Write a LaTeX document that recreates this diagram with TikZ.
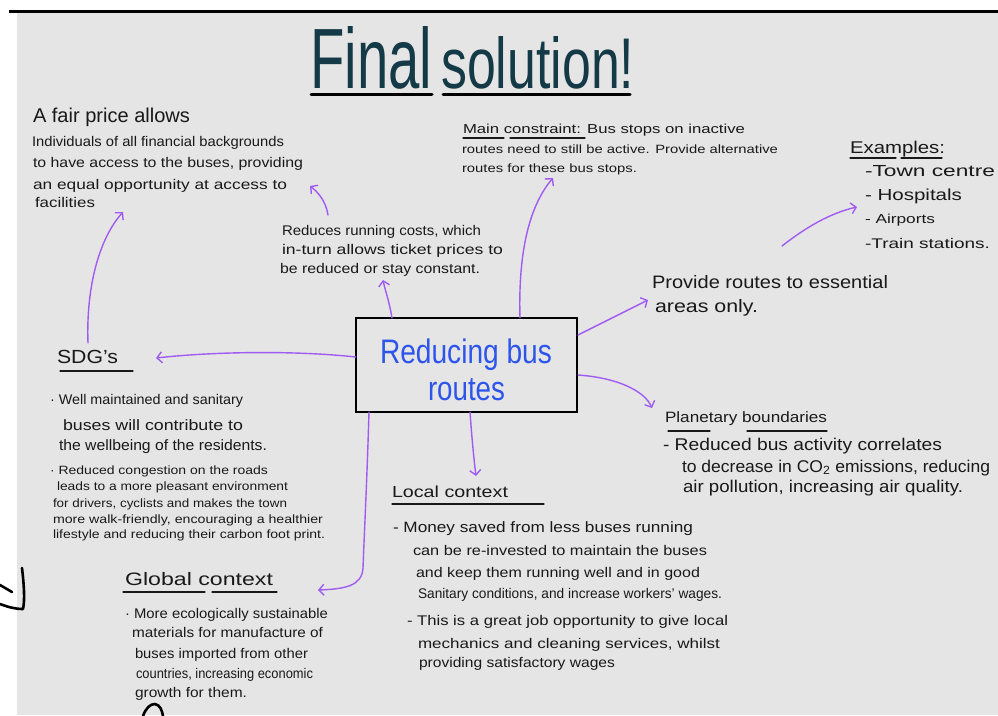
\documentclass[tikz,border=0pt]{standalone}
\usepackage{fontspec}
\setmainfont{Liberation Sans}
\usepackage{graphicx}
\usetikzlibrary{arrows.meta}
\definecolor{bggray}{RGB}{229,229,229}
\definecolor{ink}{RGB}{25,25,25}
\definecolor{titleteal}{RGB}{21,58,71}
\definecolor{penblue}{RGB}{45,85,235}
\definecolor{penpurple}{RGB}{160,92,242}
% fixed height, width fitted
\newcommand{\wl}[3]{{\fontsize{#2}{#2}\selectfont\resizebox{#1pt}{\height}{#3}}}
\tikzset{
  tx/.style={anchor=base west, inner sep=0pt, outer sep=0pt, text=ink},
  ul/.style={draw=ink, line width=1.3pt, line cap=round},
  arr/.style={draw=penpurple, line width=1.4pt, line cap=round,
    -{Straight Barb[length=5pt,width=11pt,line width=1.4pt]}},
  mainbox/.style={draw=black, line width=2.2pt, fill=bggray, inner sep=0pt,
    minimum width=221pt, minimum height=94pt},
  scrib/.style={draw=black, line width=2.6pt, line cap=round, line join=round}
}
\begin{document}
\begin{tikzpicture}[x=1pt,y=-1pt]
\useasboundingbox (0,0) rectangle (998,715);
\fill[white] (0,0) rectangle (998,715);
\fill[bggray] (17,11) rectangle (998,715);
\draw[black, line width=3pt] (9,11) -- (998,11);

% stray scribbles at the edges
\draw[scrib] (0,585) -- (12,592);
\draw[scrib] (22,568) .. controls (24,585) and (25,600) .. (23,609) .. controls (15,609) and (8,607) .. (0,604);
\draw[scrib] (143,716) .. controls (146,708) and (150,704) .. (155,704) .. controls (160,705) and (162,710) .. (163,716);

% title
\node[anchor=base west, inner sep=0pt, text=titleteal] (title1) at (310,88) {\resizebox{122pt}{62pt}{Final}};
\node[anchor=base west, inner sep=0pt, text=titleteal] (title2) at (441,88) {\resizebox{193pt}{52pt}{solution!}};
\draw[line width=3pt, line cap=round] (311,94) -- (432,94);
\draw[line width=3pt, line cap=round] (443,94) -- (630,94);

% fair price block
\node[tx] (fair1) at (33,122) {\wl{157}{20}{A fair price allows}};
\node[tx] (fair2) at (32,146) {\wl{252}{14}{Individuals of all financial backgrounds}};
\node[tx] (fair3) at (33,167) {\wl{270}{14}{to have access to the buses, providing}};
\node[tx] (fair4) at (33,189) {\wl{254}{14}{an equal opportunity at access to}};
\node[tx] (fair5) at (35,207) {\wl{60}{14}{facilities}};

% reduces running costs
\node[tx] (red1) at (282,235) {\wl{199}{14}{Reduces running costs, which}};
\node[tx] (red2) at (282,254) {\wl{221}{14}{in-turn allows ticket prices to}};
\node[tx] (red3) at (280,273) {\wl{200}{14}{be reduced or stay constant.}};

% main constraint
\node[tx] (main1) at (463,133) {\wl{282}{13}{Main constraint: Bus stops on inactive}};
\node[tx] (main2) at (462,153) {\wl{316}{12}{routes need to still be active. Provide alternative}};
\node[tx] (main3) at (462,172) {\wl{175}{12}{routes for these bus stops.}};
\draw[ul] (463,138) -- (504,138);
\draw[ul] (510,138) -- (585,138);

% examples
\node[tx] (ex0) at (850,153) {\wl{95}{17}{Examples:}};
\draw[ul] (850,158) -- (896,158);
\draw[ul] (901,158) -- (942,158);
\node[tx] (ex1) at (865,176) {\wl{130}{16}{-Town centre}};
\node[tx] (ex2) at (865,200) {\wl{97}{16}{- Hospitals}};
\node[tx] (ex3) at (865,223) {\wl{70}{13}{- Airports}};
\node[tx] (ex4) at (865,248) {\wl{125}{14}{-Train stations.}};

% provide routes
\node[tx] (prov1) at (652,288) {\wl{236}{18}{Provide routes to essential}};
\node[tx] (prov2) at (655,312) {\wl{103}{18}{areas only.}};

% central box
\node[mainbox] (box) at (466.5,365) {};
\node[tx, text=penblue] (bt1) at (380,363) {\wl{172}{34}{Reducing bus}};
\node[tx, text=penblue] (bt2) at (428,400) {\wl{77}{34}{routes}};

% SDG block
\node[tx] (sdg0) at (57,363) {\wl{61}{19}{SDG's}};
\draw[ul] (60,371) -- (133,371);
\node[tx] (sdg1) at (50,404) {\wl{193}{14}{· Well maintained and sanitary}};
\node[tx] (sdg2) at (63,430) {\wl{180}{15}{buses will contribute to}};
\node[tx] (sdg3) at (59,450) {\wl{208}{15}{the wellbeing of the residents.}};
\node[tx] (sdg4) at (50,474) {\wl{218}{12}{· Reduced congestion on the roads}};
\node[tx] (sdg5) at (57,490) {\wl{231}{12}{leads to a more pleasant environment}};
\node[tx] (sdg6) at (53,507) {\wl{234}{12}{for drivers, cyclists and makes the town}};
\node[tx] (sdg7) at (53,523) {\wl{270}{12}{more walk-friendly, encouraging a healthier}};
\node[tx] (sdg8) at (53,538) {\wl{272}{12}{lifestyle and reducing their carbon foot print.}};

% planetary boundaries
\node[tx] (pb0) at (665,422) {\wl{162}{15}{Planetary boundaries}};
\draw[ul] (668,431) -- (710,431);
\draw[ul] (747,431) -- (827,431);
\node[tx] (pb1) at (663,450) {\wl{279}{17}{- Reduced bus activity correlates}};
\node[tx] (pb2) at (682,472) {\wl{308}{17}{to decrease in CO\textsubscript{2} emissions, reducing}};
\node[tx] (pb3) at (683,492) {\wl{280}{17}{air pollution, increasing air quality.}};

% local context
\node[tx] (loc0) at (392,497) {\wl{116}{16}{Local context}};
\draw[ul] (392,504) -- (544,504);
\node[tx] (loc1) at (393,532) {\wl{300}{15}{- Money saved from less buses running}};
\node[tx] (loc2) at (413,555) {\wl{294}{14}{can be re-invested to maintain the buses}};
\node[tx] (loc3) at (416,577) {\wl{284}{14}{and keep them running well and in good}};
\node[tx] (loc4) at (418,598) {\wl{304}{14}{Sanitary conditions, and increase workers' wages.}};
\node[tx] (loc5) at (407,625) {\wl{321}{14}{- This is a great job opportunity to give local}};
\node[tx] (loc6) at (418,648) {\wl{302}{14}{mechanics and cleaning services, whilst}};
\node[tx] (loc7) at (419,667) {\wl{196}{14}{providing satisfactory wages}};

% global context
\node[tx] (glo0) at (125,585) {\wl{148}{18}{Global context}};
\draw[ul] (123,592) -- (205,592);
\draw[ul] (212,592) -- (277,592);
\node[tx] (glo1) at (125,618) {\wl{203}{14}{· More ecologically sustainable}};
\node[tx] (glo2) at (132,637) {\wl{191}{14}{materials for manufacture of}};
\node[tx] (glo3) at (135,658) {\wl{173}{14}{buses imported from other}};
\node[tx] (glo4) at (136,678) {\wl{177}{14}{countries, increasing economic}};
\node[tx] (glo5) at (135,697) {\wl{112}{14}{growth for them.}};

% connector end points
\coordinate (bxW) at (356,357);
\coordinate (bxNa) at (392,318);
\coordinate (bxNb) at (520,318);
\coordinate (bxEa) at (578,335);
\coordinate (bxEb) at (578,375);
\coordinate (bxSa) at (369,412);
\coordinate (bxSb) at (470,412);
\coordinate (sdgTop) at (88,343);
\coordinate (sdgTip) at (156,358);
\coordinate (fairTip) at (123,212);
\coordinate (redTip) at (383,280);
\coordinate (redTop) at (328,215);
\coordinate (fairTipB) at (310,186);
\coordinate (mainTip) at (553,178);
\coordinate (provTip) at (648,300);
\coordinate (provOut) at (782,246);
\coordinate (exTip) at (857,207);
\coordinate (pbTip) at (652,408);
\coordinate (locTip) at (476,476);
\coordinate (gloTip) at (318,590);

% connectors
\draw[arr] (bxW) .. controls (290,350) and (210,352) .. (sdgTip);
\draw[arr] (sdgTop) .. controls (86,290) and (98,240) .. (fairTip);
\draw[arr] (bxNa) .. controls (389,300) and (385,290) .. (redTip);
\draw[arr] (redTop) .. controls (326,202) and (319,193) .. (fairTipB);
\draw[arr] (bxNb) .. controls (518,250) and (530,205) .. (mainTip);
\draw[arr] (bxEa) -- (provTip);
\draw[arr] (provOut) .. controls (805,228) and (830,213) .. (exTip);
\draw[arr] (bxEb) .. controls (620,378) and (645,392) .. (pbTip);
\draw[arr] (bxSb) .. controls (472,440) and (474,460) .. (locTip);
\draw[arr] (bxSa) .. controls (367,480) and (364,540) .. (363,568) .. controls (362,586) and (345,589) .. (gloTip);
\end{tikzpicture}
\end{document}
